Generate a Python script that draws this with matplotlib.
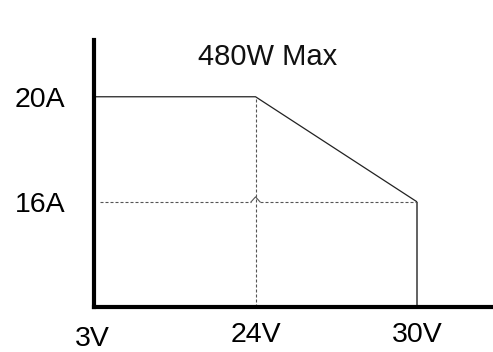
import numpy as np
import matplotlib
matplotlib.use("Agg")
import matplotlib.pyplot as plt
from matplotlib.transforms import ScaledTranslation

plt.rcParams['font.family'] = ['Liberation Sans', 'DejaVu Sans']

# Data (axis positions are evenly spaced categories as in the reference)
volt_labels = ['3V', '24V', '30V']
volt_pos = [0, 1, 2]
amp_labels = ['16A', '20A']
amp_pos = [1, 2]

# Derating curve: 3V..24V at 20A, down to 16A at 30V, then drop to 0
curve_v = [0, 1, 2, 2]
curve_a = [2, 2, 1, 0]

title_text = '480W Max'
FS = 20.5

fig = plt.figure(figsize=(4.93, 3.52), dpi=100)
ax = fig.add_axes([94/493, 1-307/352, 1-94/493, (307-40)/352])
ax.set_xlim(0, 2.47)
ax.set_ylim(0, 2.54)

# main curve
ax.plot(curve_v[:3], curve_a[:3], color='#222222', lw=0.9, solid_capstyle='butt')
ax.plot(curve_v[2:], curve_a[2:], color='#555555', lw=1.3, solid_capstyle='butt')

dash = (0, (2.7, 1.8))
dcol = '#555555'
# vertical dashed guide at 24V
ax.plot([volt_pos[1], volt_pos[1]], [0, amp_pos[1]], color=dcol, lw=0.8, ls=dash)

# horizontal dashed guide at 16A with a small hop over the vertical
rx, ry = 4.5/161.5, 5/105
xc, yc = volt_pos[1], amp_pos[0]
ax.plot([0.04, xc - rx], [yc, yc], color=dcol, lw=0.8, ls=dash)
ax.plot([xc + rx, volt_pos[2]], [yc, yc], color=dcol, lw=0.8, ls=dash)
ax.plot([xc - rx, xc, xc + rx], [yc, yc + ry, yc], color=dcol, lw=0.8)

ax.text(1.074, 2.38, title_text, fontsize=21, ha='center', va='center', color='#111111')

for s in ['top', 'right']:
    ax.spines[s].set_visible(False)
for s in ['left', 'bottom']:
    ax.spines[s].set_linewidth(3)
    ax.spines[s].set_color('black')

ax.set_xticks(volt_pos)
ax.set_xticklabels(volt_labels, fontsize=FS)
ax.set_yticks(amp_pos)
ax.set_yticklabels(amp_labels, fontsize=FS)
ax.tick_params(axis='both', length=0)
ax.tick_params(axis='x', pad=11)
ax.tick_params(axis='y', pad=20.5)

lbls = ax.get_xticklabels()
lbls[0].set_transform(lbls[0].get_transform() + ScaledTranslation(-2/100, -3.5/100, fig.dpi_scale_trans))

fig.savefig('out.png', dpi=100)
